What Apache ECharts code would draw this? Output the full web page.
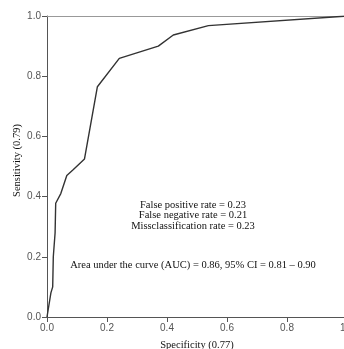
<!DOCTYPE html>
<html>
<head>
<meta charset="utf-8">
<script src="https://cdn.jsdelivr.net/npm/echarts@6/dist/echarts.min.js"></script>
<style>
  html, body { margin: 0; padding: 0; background: #fff; }
  #chart { width: 344px; height: 349px; }
</style>
</head>
<body>
<div id="chart"></div>
<script>
// ROC curve points
const specificity = [0, 0.013, 0.019, 0.021, 0.027, 0.029, 0.046, 0.066, 0.088, 0.125, 0.168, 0.241, 0.371, 0.421, 0.538, 1.0];
const sensitivity = [0, 0.08, 0.10, 0.20, 0.28, 0.378, 0.41, 0.47, 0.49, 0.525, 0.765, 0.859, 0.90, 0.937, 0.968, 1.0];
const rateLines = [
  "False positive rate = 0.23",
  "False negative rate = 0.21",
  "Missclassification rate = 0.23",
];
const aucLine = "Area under the curve (AUC) = 0.86, 95% CI = 0.81 \u2013 0.90";

const tickFont = "'Liberation Sans Narrow', 'Arial Narrow', 'Liberation Sans', sans-serif";
const serif = "'Liberation Serif', 'Times New Roman', serif";

const chart = echarts.init(document.getElementById("chart"), null, { renderer: "canvas" });

const axisCommon = {
  type: "value",
  min: 0,
  max: 1,
  interval: 0.2,
  axisLine: { show: true, lineStyle: { color: "#555", width: 1 } },
  axisTick: { show: true, length: 5, lineStyle: { color: "#555" } },
  axisLabel: {
    color: "#555",
    fontSize: 10,
    fontFamily: tickFont,
    margin: 6,
    formatter: (v) => v.toFixed(1),
  },
  splitLine: { show: false },
};

const textStyle = (text, y) => ({
  type: "text",
  style: {
    text: text,
    x: 193,
    y: y,
    align: "center",
    verticalAlign: "middle",
    fill: "#111",
    font: "10.5px " + serif,
  },
});

chart.setOption({
  animation: false,
  grid: { left: 47, top: 16, right: -3, bottom: 32, containLabel: false, outerBoundsMode: "none" },
  xAxis: [
    {
      ...axisCommon,
      position: "bottom",
      name: "Specificity (0.77)",
      nameLocation: "middle",
      nameGap: 23,
      nameMoveOverlap: false,
      nameTextStyle: { color: "#111", fontSize: 10.5, fontFamily: serif },
    },
    {
      type: "value",
      position: "top",
      min: 0,
      max: 1,
      axisLine: { show: true, lineStyle: { color: "#999", width: 1 } },
      axisTick: { show: false },
      axisLabel: { show: false },
      splitLine: { show: false },
    },
  ],
  yAxis: {
    ...axisCommon,
    name: "Sensitivity (0.79)",
    nameLocation: "middle",
    nameGap: 24,
    nameMoveOverlap: false,
    nameTextStyle: { color: "#111", fontSize: 10.5, fontFamily: serif, padding: [0, 0, 0, 12] },
  },
  series: [
    {
      type: "line",
      xAxisIndex: 0,
      data: specificity.map((x, i) => [x, sensitivity[i]]),
      symbol: "none",
      lineStyle: { color: "#333", width: 1.4 },
    },
  ],
  graphic: [
    ...rateLines.map((t, i) => textStyle(t, 205 + i * 10.5)),
    textStyle(aucLine, 265),
  ],
});
</script>
</body>
</html>
